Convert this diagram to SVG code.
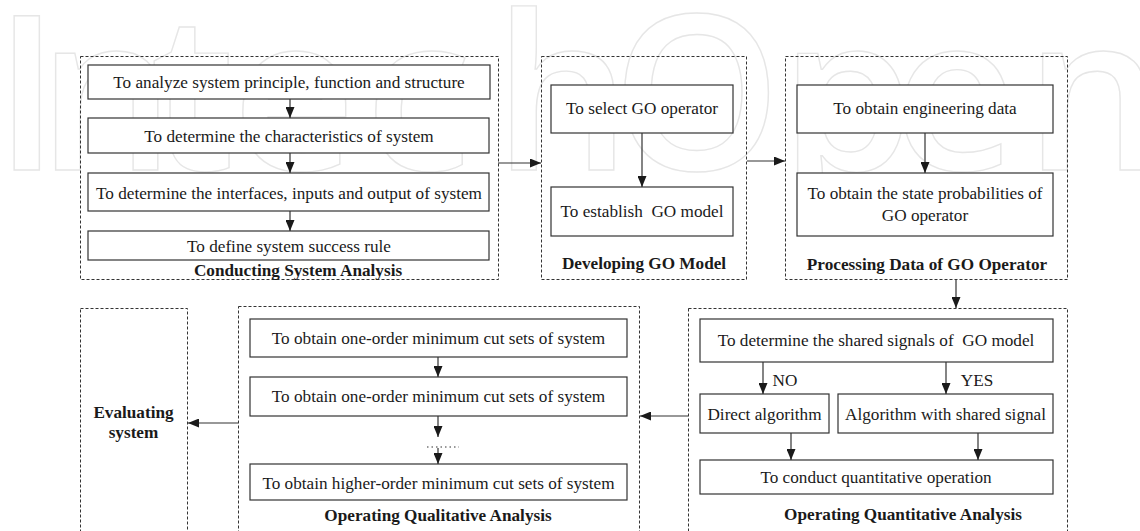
<svg xmlns="http://www.w3.org/2000/svg" width="1140" height="531" viewBox="0 0 1140 531">
  <style>
    .wm { font-family: "Open Sans", "DejaVu Sans", sans-serif; font-size: 215px; font-weight: 600; fill: none; stroke: #e6e6e6; stroke-width: 1.4; }
    .grp { fill: none; stroke: #333; stroke-width: 1; stroke-dasharray: 3 2; }
    .box { fill: #fff; stroke: #333; stroke-width: 1.2; }
    .t { font-family: "Liberation Serif", "Times New Roman", serif; font-size: 17.2px; fill: #1a1a1a; text-anchor: middle; }
    .b { font-weight: bold; }
    .wire { fill: none; stroke: #333; stroke-width: 1.2; marker-end: url(#ah); }
    .dots { fill: none; stroke: #333; stroke-width: 1.2; stroke-dasharray: 1.5 3; }
  </style>
  <defs>
    <marker id="ah" markerUnits="userSpaceOnUse" markerWidth="11" markerHeight="9" refX="11" refY="4.5" orient="auto">
      <path d="M0,0 L11,4.5 L0,9 Z" fill="#1a1a1a"/>
    </marker>
  </defs>

  <rect width="1140" height="531" fill="#fff"/>

  <!-- faint background wordmark -->
  <text class="wm" x="-6 38 150 232 365 494 612 780 893 1025" y="170">IntechOpen</text>

  <!-- Conducting System Analysis -->
  <g id="conducting">
    <rect class="grp" x="80.5" y="56.5" width="418" height="223"/>
    <rect class="box" x="88" y="65" width="402" height="34"/>
    <text class="t" x="289" y="88">To analyze system principle, function and structure</text>
    <rect class="box" x="88" y="118" width="401" height="35"/>
    <text class="t" x="289" y="141.5">To determine the characteristics of system</text>
    <rect class="box" x="88" y="173" width="401" height="38"/>
    <text class="t" x="289" y="198.5">To determine the interfaces, inputs and output of system</text>
    <rect class="box" x="88" y="231" width="401" height="29"/>
    <text class="t" x="289" y="251.5">To define system success rule</text>
    <text class="t b" x="298" y="276">Conducting System Analysis</text>
  </g>

  <!-- Developing GO Model -->
  <g id="developing">
    <rect class="grp" x="541.5" y="56.5" width="205" height="223"/>
    <rect class="box" x="551" y="85" width="182" height="48"/>
    <text class="t" x="642" y="114">To select GO operator</text>
    <rect class="box" x="551" y="187" width="182" height="49"/>
    <text class="t" x="642" y="217" xml:space="preserve">To establish  GO model</text>
    <text class="t b" x="644" y="269">Developing GO Model</text>
  </g>

  <!-- Processing Data of GO Operator -->
  <g id="processing">
    <rect class="grp" x="785.5" y="56.5" width="282" height="223"/>
    <rect class="box" x="797" y="85" width="256" height="48"/>
    <text class="t" x="925" y="113.5">To obtain engineering data</text>
    <rect class="box" x="797" y="173" width="256" height="63"/>
    <text class="t" x="925" y="199">To obtain the state probabilities of</text>
    <text class="t" x="925" y="220.5">GO operator</text>
    <text class="t b" x="927" y="269.5">Processing Data of GO Operator</text>
  </g>

  <!-- Operating Quantitative Analysis -->
  <g id="quantitative">
    <rect class="grp" x="688.5" y="308.5" width="379" height="240"/>
    <rect class="box" x="700" y="319" width="353" height="43"/>
    <text class="t" x="876" y="345.5" xml:space="preserve">To determine the shared signals of  GO model</text>
    <rect class="box" x="700" y="394" width="129" height="39"/>
    <text class="t" x="764.5" y="419.5">Direct algorithm</text>
    <rect class="box" x="838" y="394" width="215" height="39"/>
    <text class="t" x="945.5" y="419.5">Algorithm with shared signal</text>
    <rect class="box" x="700" y="460" width="353" height="34"/>
    <text class="t" x="876" y="482.5">To conduct quantitative operation</text>
    <text class="t b" x="903" y="519.5">Operating Quantitative Analysis</text>
  </g>

  <!-- Operating Qualitative Analysis -->
  <g id="qualitative">
    <rect class="grp" x="238.5" y="306.5" width="401" height="240"/>
    <rect class="box" x="250" y="319" width="377" height="38"/>
    <text class="t" x="438.5" y="343.5">To obtain one-order minimum cut sets of system</text>
    <rect class="box" x="250" y="377" width="377" height="39"/>
    <text class="t" x="438.5" y="401.5">To obtain one-order minimum cut sets of system</text>
    <rect class="box" x="250" y="464" width="377" height="36"/>
    <text class="t" x="438.5" y="488.5">To obtain higher-order minimum cut sets of system</text>
    <text class="t b" x="438" y="520.5">Operating Qualitative Analysis</text>
  </g>

  <!-- Evaluating system -->
  <g id="evaluating">
    <rect class="grp" x="80.5" y="308.5" width="107" height="240"/>
    <text class="t b" x="133.5" y="417.5">Evaluating</text>
    <text class="t b" x="133.5" y="437.5">system</text>
  </g>

  <!-- connectors -->
  <g id="connectors">
    <line class="wire" x1="290" y1="99" x2="290" y2="118"/>
    <line class="wire" x1="290" y1="153" x2="290" y2="173"/>
    <line class="wire" x1="290" y1="211" x2="290" y2="231"/>
    <line class="wire" x1="498" y1="163" x2="541" y2="163"/>
    <line class="wire" x1="642" y1="133" x2="642" y2="187"/>
    <line class="wire" x1="747" y1="161" x2="785" y2="161"/>
    <line class="wire" x1="925" y1="133" x2="925" y2="173"/>
    <line class="wire" x1="956" y1="280" x2="956" y2="308"/>
    <line class="wire" x1="763" y1="362" x2="763" y2="394"/>
    <text class="t" x="785" y="385.5">NO</text>
    <line class="wire" x1="946" y1="362" x2="946" y2="394"/>
    <text class="t" x="977" y="385.5">YES</text>
    <line class="wire" x1="791" y1="433" x2="791" y2="460"/>
    <line class="wire" x1="978" y1="433" x2="978" y2="460"/>
    <line class="wire" x1="688" y1="416" x2="640" y2="416"/>
    <line class="wire" x1="438" y1="357" x2="438" y2="377"/>
    <line class="wire" x1="438" y1="416" x2="438" y2="437"/>
    <line class="dots" x1="427" y1="447" x2="459" y2="447"/>
    <line class="wire" x1="438" y1="448" x2="438" y2="464"/>
    <line class="wire" x1="238" y1="423" x2="188" y2="423"/>
  </g>
</svg>
